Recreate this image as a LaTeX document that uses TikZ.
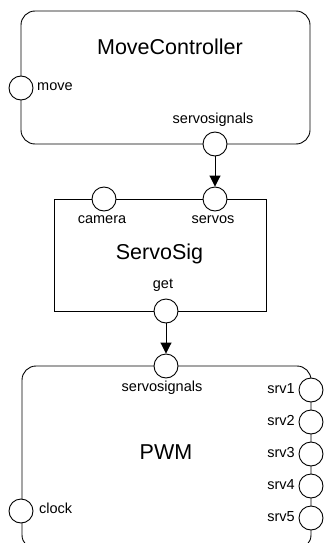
\documentclass[tikz,border=0pt]{standalone}
\usepackage{fontspec}
\setmainfont{Liberation Sans}
\usetikzlibrary{arrows.meta}
\tikzset{
  comp/.style={draw, line width=0.9pt, fill=white, inner sep=0pt},
  rcomp/.style={comp, rounded corners=14pt},
  port/.style={circle, draw, line width=0.9pt, fill=white, minimum size=24pt, inner sep=0pt},
  title/.style={font=\fontsize{21.5}{24}\selectfont, inner sep=0pt, anchor=base},
  lbl/.style={font=\fontsize{14.5}{17}\selectfont, inner sep=0pt, anchor=base},
  flow/.style={line width=0.9pt, -{Triangle[length=11pt,width=11pt]}, shorten >=0pt}
}
\begin{document}
\begin{tikzpicture}[x=1pt,y=-1pt]
\useasboundingbox (0,0) rectangle (326,543);
\clip (0,0) rectangle (326,543);
\fill[white] (0,0) rectangle (326,543);

% MoveController
\node[rcomp, minimum width=289pt, minimum height=133pt] (mc) at (165.5,77.5) {};
\node[title] (mctitle) at (170,55) {MoveController};
\node[lbl, anchor=base west] (mcmovel) at (37,90.7) {move};
\node[lbl] (mcssl) at (213,123) {servosignals};
\node[port] (mcmove) at (21,88) {};
\node[port] (mcss) at (215,144) {};

% ServoSig
\node[comp, minimum width=212pt, minimum height=112pt] (ss) at (160,255) {};
\node[title] (sstitle) at (159.5,259) {ServoSig};
\node[lbl] (sscaml) at (102,223) {camera};
\node[lbl] (ssservl) at (213,223) {servos};
\node[lbl] (ssgetl) at (163,288) {get};
\node[port] (sscam) at (104,199) {};
\node[port] (ssserv) at (215,199) {};
\node[port] (ssget) at (166,311) {};

% PWM
\node[rcomp, minimum width=289pt, minimum height=183pt] (pwm) at (166.5,457.5) {};
\node[title] (pwmtitle) at (166,459) {PWM};
\node[lbl] (pwmssl) at (162,391.5) {servosignals};
\node[lbl, anchor=base west] (pwmclkl) at (39,513.3) {clock};
\node[port] (pwmss) at (166,366) {};
\node[port] (pwmclk) at (21,511) {};
\foreach \i in {1,...,5} {
  \node[lbl, anchor=base east] (pwmsrv\i l) at (295,{358+32*\i+3.5}) {srv\i};
  \node[port] (pwmsrv\i) at (311,{358+32*\i}) {};
}

% signal flow
\draw[flow] (mcss) -- (ssserv);
\draw[flow] (ssget) -- (pwmss);
\end{tikzpicture}
\end{document}
